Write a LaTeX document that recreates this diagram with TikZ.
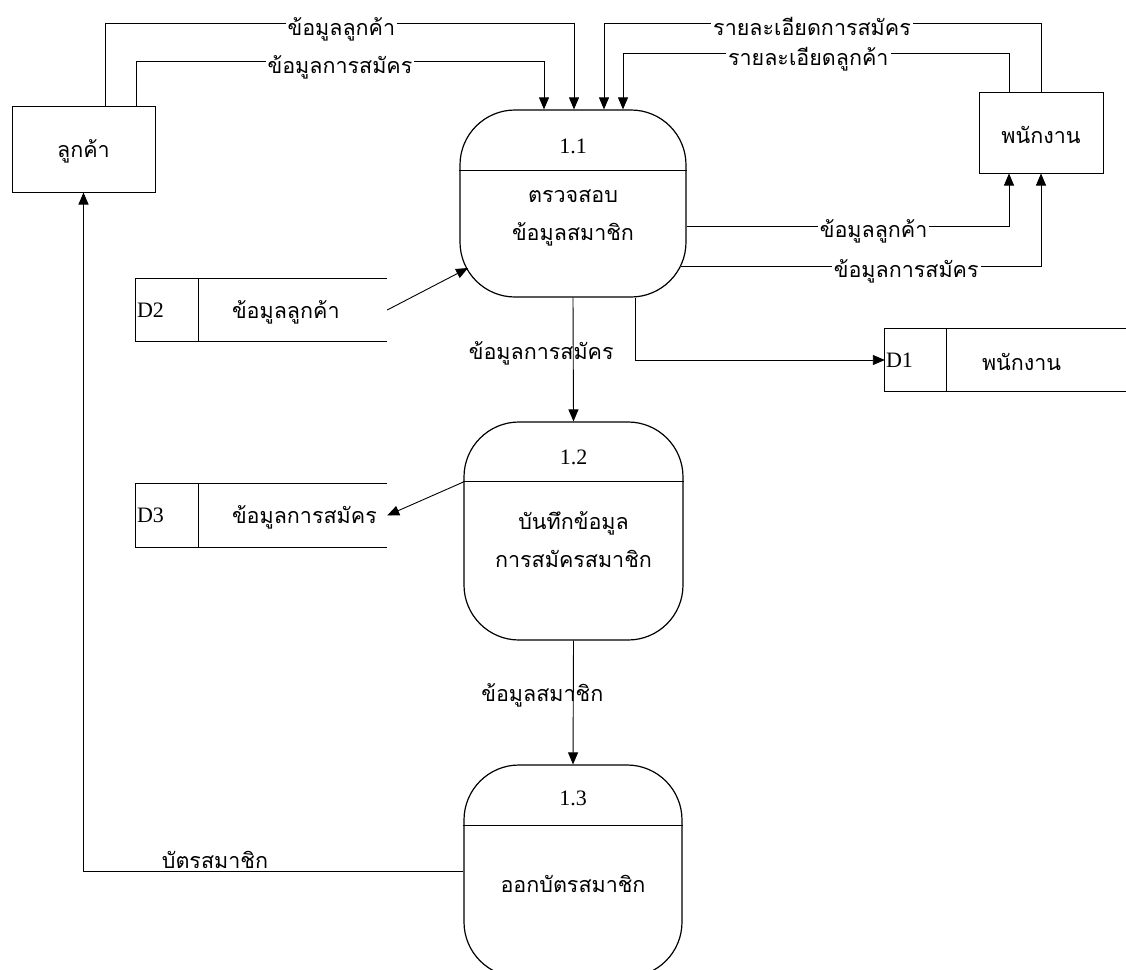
\documentclass[tikz,border=0pt]{standalone}
\usepackage{fontspec}
\setmainfont{Liberation Serif}
\newfontfamily\thai[Script=Thai]{Loma}
\usetikzlibrary{arrows.meta,calc}
\begin{document}
\begin{tikzpicture}[x=1pt,y=-1pt,
  proc/.style={draw, line width=1.2pt, rounded corners=55pt, inner sep=0pt},
  ent/.style={draw, line width=1pt, inner sep=0pt},
  storeline/.style={line width=1pt},
  flow/.style={line width=0.9pt, -{Triangle[length=12pt,width=10pt]}},
  lbl/.style={font=\thai\fontsize{21.5}{24}\selectfont, fill=white, inner sep=2pt},
  lbln/.style={font=\thai\fontsize{21.5}{24}\selectfont, inner sep=1pt},
  txt/.style={font=\thai\fontsize{21.5}{38}\selectfont, align=center, inner sep=0pt},
  num/.style={font=\fontsize{22}{24}\selectfont, inner sep=0pt}]
\useasboundingbox (0,0) rectangle (1126,969);
\clip (0,0) rectangle (1126,969);

% external entities
\node[ent, minimum width=143, minimum height=86] (cust) at (83.5,149) {};
\node[txt] (custt) at ([yshift=-2pt]cust.center) {ลูกค้า};
\node[ent, minimum width=124, minimum height=81] (emp) at (1041,132.5) {};
\node[txt] (empt) at ([yshift=-2pt]emp.center) {พนักงาน};

% processes
\node[proc, minimum width=226, minimum height=187] (p1) at (573,203.5) {};
\draw[line width=1.2pt] ([yshift=-61pt]p1.north west) -- ([yshift=-61pt]p1.north east);
\node[num] (p1n) at ([yshift=-37pt]p1.north) {1.1};
\node[txt] (p1t) at (573,218) {ตรวจสอบ\\ข้อมูลสมาชิก};

\node[proc, minimum width=219, minimum height=218] (p2) at (573.5,531) {};
\draw[line width=1.2pt] ([yshift=-60pt]p2.north west) -- ([yshift=-60pt]p2.north east);
\node[num] (p2n) at ([yshift=-36pt]p2.north) {1.2};
\node[txt] (p2t) at (573.5,540) {บันทึกข้อมูล\\การสมัครสมาชิก};

\node[proc, minimum width=218, minimum height=212] (p3) at (573,871) {};
\draw[line width=1.2pt] ([yshift=-61pt]p3.north west) -- ([yshift=-61pt]p3.north east);
\node[num] (p3n) at ([yshift=-34pt]p3.north) {1.3};
\node[txt] (p3t) at (573,884) {ออกบัตรสมาชิก};

% data stores
\node[minimum width=251, minimum height=62, inner sep=0pt] (d2) at (261.5,310) {};
\draw[storeline] (d2.north east) -- (d2.north west) -- (d2.south west) -- (d2.south east);
\draw[storeline] ([xshift=63pt]d2.north west) -- ([xshift=63pt]d2.south west);
\node[num, anchor=west] (d2n) at ([xshift=1pt]d2.west) {D2};
\node[txt, anchor=west] (d2t) at ([xshift=96pt,yshift=-2pt]d2.west) {ข้อมูลลูกค้า};

\node[minimum width=251, minimum height=63, inner sep=0pt] (d3) at (261.5,515.5) {};
\draw[storeline] (d3.north east) -- (d3.north west) -- (d3.south west) -- (d3.south east);
\draw[storeline] ([xshift=63pt]d3.north west) -- ([xshift=63pt]d3.south west);
\node[num, anchor=west] (d3n) at ([xshift=1pt]d3.west) {D3};
\node[txt, anchor=west] (d3t) at ([xshift=96pt,yshift=-2pt]d3.west) {ข้อมูลการสมัคร};

\node[minimum width=260, minimum height=62, inner sep=0pt] (d1) at (1015,360) {};
\draw[storeline] (d1.north east) -- (d1.north west) -- (d1.south west) -- (d1.south east);
\draw[storeline] ([xshift=62pt]d1.north west) -- ([xshift=62pt]d1.south west);
\node[num, anchor=west] (d1n) at ([xshift=1pt]d1.west) {D1};
\node[txt, anchor=west] (d1t) at ([xshift=97pt,yshift=-2pt]d1.west) {พนักงาน};

% flows from customer
\draw[flow] ([xshift=21.5pt]cust.north) |- ([xshift=1pt,yshift=86pt]p1.north)
   node[lbl, pos=0.752, anchor=base, yshift=-12pt] {ข้อมูลลูกค้า} -- ([xshift=1pt]p1.north);
\draw[flow] ([xshift=52.5pt]cust.north) |- ([xshift=-29pt,yshift=48pt]p1.north)
   node[lbl, pos=0.75, anchor=base, yshift=-12pt] {ข้อมูลการสมัคร} -- ([xshift=-29pt]p1.north);

% flows from employee
\draw[flow] (emp.north) |- ([xshift=31pt,yshift=86pt]p1.north)
   node[lbl, pos=0.762, anchor=base, yshift=-12pt] {รายละเอียดการสมัคร} -- ([xshift=31pt]p1.north);
\draw[flow] ([xshift=-32pt]emp.north) |- ([xshift=50pt,yshift=56pt]p1.north)
   node[lbl, pos=0.76, anchor=base, yshift=-12pt] {รายละเอียดลูกค้า} -- ([xshift=50pt]p1.north);

% flows to employee
\draw[flow] ([yshift=-22.5pt]p1.east) -| ([xshift=-32pt]emp.south)
   node[lbl, pos=0.29, anchor=base, yshift=-11pt] {ข้อมูลลูกค้า};
\draw[flow] ([xshift=-6pt,yshift=-62.5pt]p1.east) -| (emp.south)
   node[lbl, pos=0.313, anchor=base, yshift=-11pt] {ข้อมูลการสมัคร};

% store flows
\draw[flow] (d2.east) -- ($(p1.center)+(-105,64.5)$);
\draw[flow] ([xshift=62pt]p1.south) |- (d1.west);
\draw[flow] ([yshift=49pt]p2.west) -- (d3.east);

% process chain
\draw[flow] (p1.south) -- (p2.north)
   node[lbln, pos=0.45, xshift=-32pt] {ข้อมูลการสมัคร};
\draw[flow] (p2.south) -- (p3.north)
   node[lbln, pos=0.44, xshift=-31pt] {ข้อมูลสมาชิก};

% card to customer
\draw[flow] (p3.west) -| (cust.south)
   node[lbln, pos=0.327, anchor=base, yshift=3pt] {บัตรสมาชิก};
\end{tikzpicture}
\end{document}
